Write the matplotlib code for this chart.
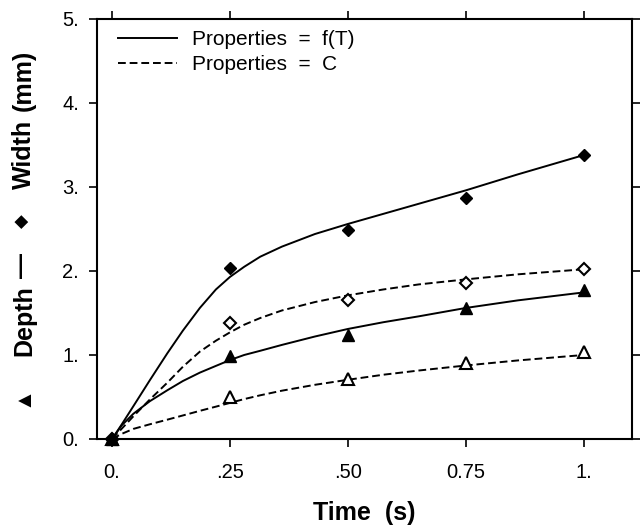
import matplotlib
matplotlib.use("Agg")
import matplotlib.pyplot as plt

plt.rcParams['font.family'] = ['Liberation Sans', 'DejaVu Sans']

# measured points
t_pts = [0.0, 0.25, 0.50, 0.75, 1.0]
width_fT = [0.0, 2.04, 2.49, 2.87, 3.38]
width_C = [0.0, 1.38, 1.65, 1.86, 2.02]
depth_fT = [0.0, 0.99, 1.24, 1.56, 1.77]
depth_C = [0.0, 0.50, 0.71, 0.91, 1.03]

# fitted curves
t_fit = [0.0, 0.02, 0.045, 0.08, 0.117, 0.15, 0.186, 0.22, 0.25, 0.28,
         0.314, 0.36, 0.43, 0.50, 0.575, 0.65, 0.75, 0.86, 1.0]
width_fT_fit = [0.0, 0.17, 0.39, 0.70, 1.02, 1.29, 1.56, 1.78, 1.93, 2.05,
                2.17, 2.29, 2.44, 2.56, 2.68, 2.80, 2.96, 3.15, 3.38]
width_C_fit = [0.0, 0.12, 0.27, 0.47, 0.67, 0.86, 1.04, 1.17, 1.27, 1.36,
               1.44, 1.53, 1.63, 1.71, 1.78, 1.84, 1.90, 1.96, 2.02]
depth_fT_fit = [0.0, 0.16, 0.30, 0.45, 0.58, 0.69, 0.79, 0.87, 0.94, 1.00,
                1.05, 1.12, 1.22, 1.31, 1.39, 1.46, 1.56, 1.65, 1.745]
depth_C_fit = [0.0, 0.06, 0.12, 0.175, 0.23, 0.28, 0.335, 0.385, 0.43, 0.475,
               0.52, 0.575, 0.645, 0.705, 0.765, 0.815, 0.875, 0.935, 1.0]

x_ticks = [0.0, 0.25, 0.50, 0.75, 1.0]
x_labels = ['0.', '.25', '.50', '0.75', '1.']
y_ticks = [0, 1, 2, 3, 4, 5]
y_labels = ['0.', '1.', '2.', '3.', '4.', '5.']

# y label pieces, from the top of the axis down
ylabel_parts = ['(mm)', 'Width', '\u25C6', '\u2014', 'Depth', '\u25B2']
ylabel_ypix = [80, 154, 221, 266, 321, 396]
ylabel_size = [18, 18, 13, 18, 18, 16]
ylabel_word = [True, True, False, False, True, False]

fig = plt.figure(figsize=(6.4, 5.28), dpi=100)
ax = fig.add_axes([0.1516, 0.1686, 0.8359, 0.7955])

lw = 1.4
dash = (4, 2)
ax.plot(t_fit, width_fT_fit, 'k-', lw=lw, label='Properties  =  f(T)')
ax.plot(t_fit, width_C_fit, 'k--', lw=lw, dashes=dash, label='Properties  =  C')
ax.plot(t_fit, depth_fT_fit, 'k-', lw=lw)
ax.plot(t_fit, depth_C_fit, 'k--', lw=lw, dashes=dash)

ax.plot(t_pts, width_C, ls='none', marker='D', ms=5.8, mfc='white', mec='black',
        mew=1.5, clip_on=False, zorder=5)
ax.plot(t_pts, depth_C, ls='none', marker='^', ms=8, mfc='white', mec='black',
        mew=1.5, clip_on=False, zorder=5)
ax.plot(t_pts, depth_fT, ls='none', marker='^', ms=8, mfc='black', mec='black',
        clip_on=False, zorder=6)
ax.plot(t_pts, width_fT, ls='none', marker='D', ms=5.8, mfc='black', mec='black',
        clip_on=False, zorder=6)

ax.set_xlim(-0.032, 1.102)
ax.set_ylim(0, 5)
ax.set_xticks(x_ticks)
ax.set_xticklabels(x_labels)
ax.set_yticks(y_ticks)
ax.set_yticklabels(y_labels)
ax.tick_params(direction='out', length=6, width=1.2, top=True, right=True,
               labelsize=14.5, colors='black')
ax.tick_params(axis='x', pad=11)
ax.tick_params(axis='y', pad=7)
for s in ax.spines.values():
    s.set_linewidth(1.5)

ax.set_xlabel('Time  (s)', fontsize=18, fontweight='bold', labelpad=14)
for txt, yp, fs, word in zip(ylabel_parts, ylabel_ypix, ylabel_size, ylabel_word):
    if word:
        fig.text(31 / 640, 1 - yp / 528, txt, rotation=90, rotation_mode='anchor',
                 ha='center', va='baseline', fontsize=fs, fontweight='bold')
    else:
        fig.text(22 / 640, 1 - yp / 528, txt, rotation=90, rotation_mode='anchor',
                 ha='center', va='center', fontsize=fs, fontweight='bold')

ax.legend(loc='upper left', bbox_to_anchor=(0.039, 0.974), frameon=False,
          fontsize=15, handlelength=2.83, handletextpad=0.72,
          labelspacing=0.3, borderpad=0, borderaxespad=0)

fig.savefig('out.png', dpi=100)
